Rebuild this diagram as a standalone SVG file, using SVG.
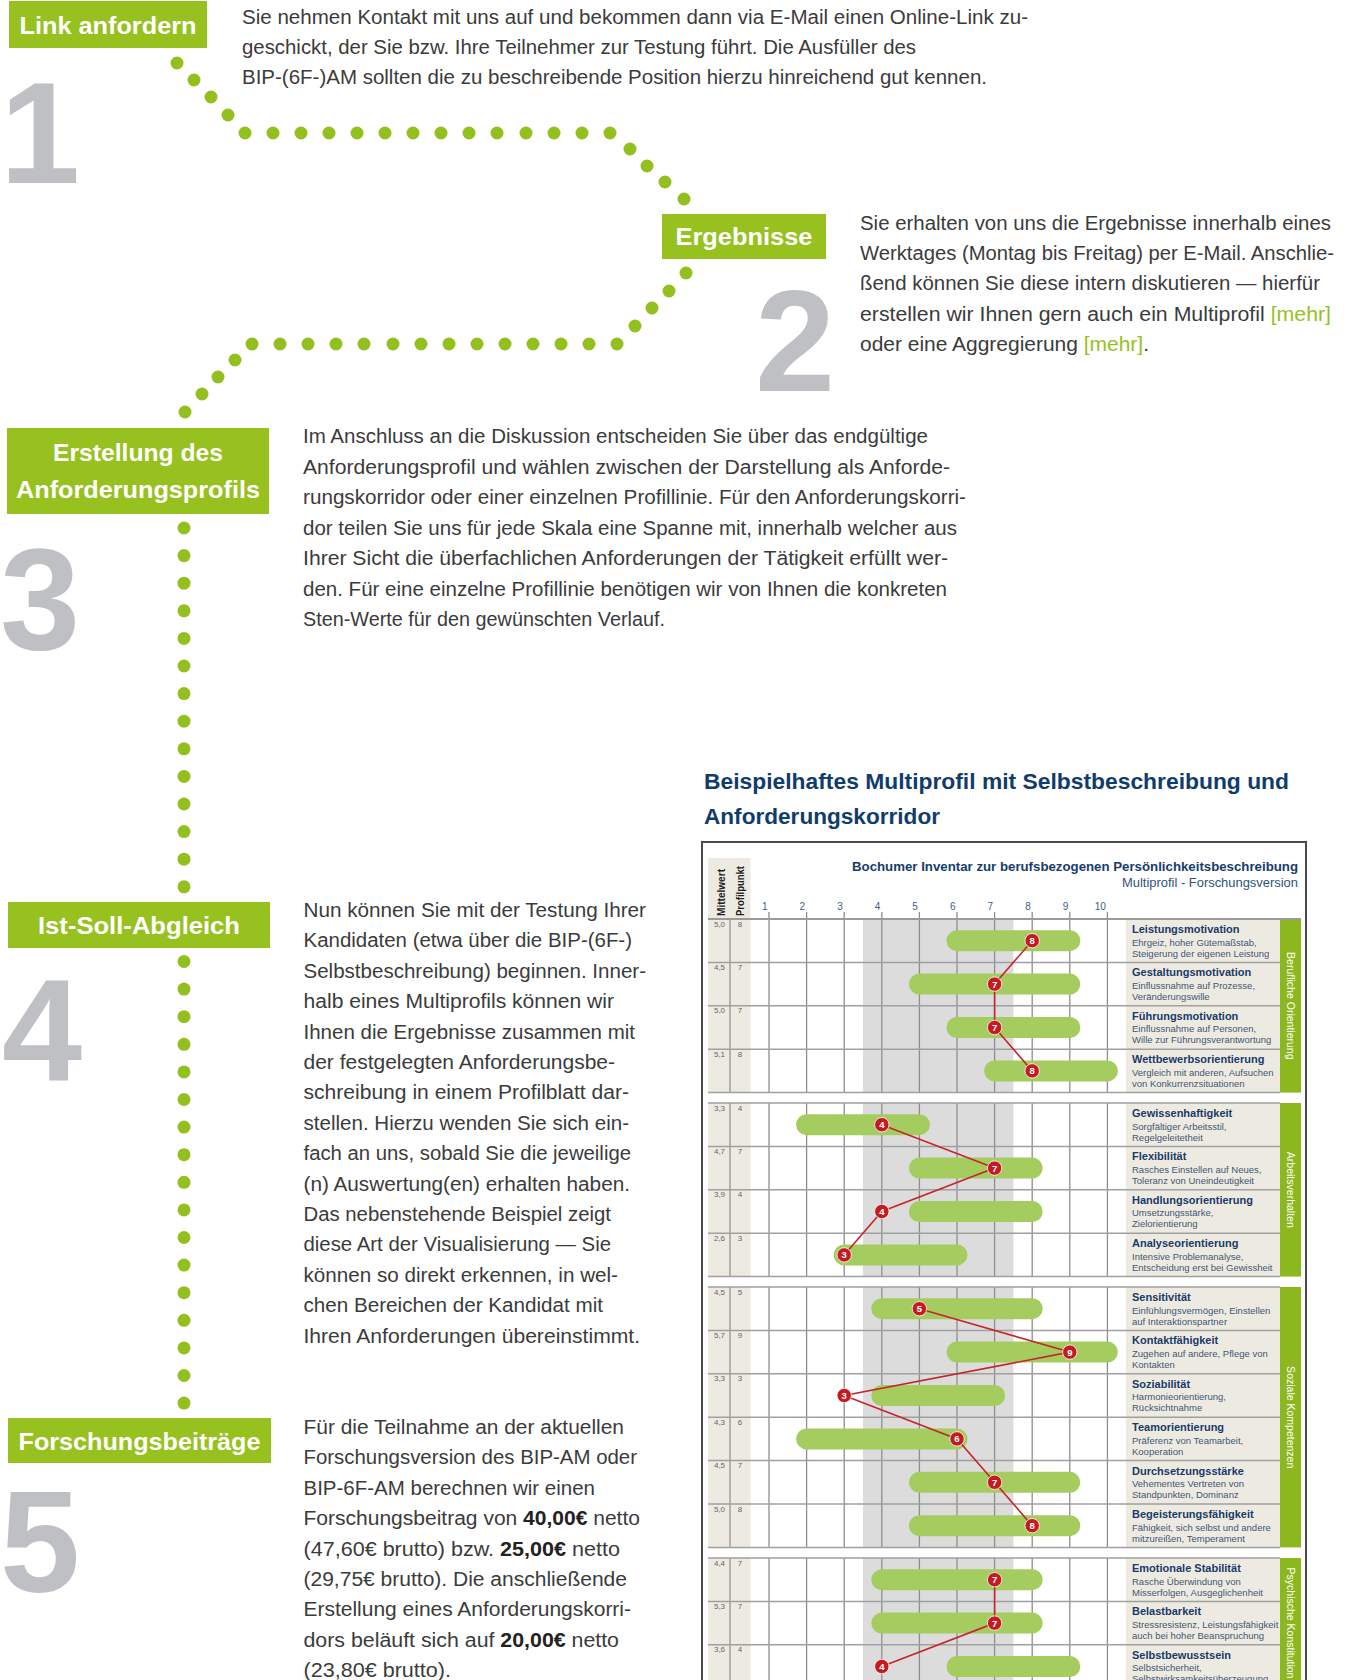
<svg xmlns="http://www.w3.org/2000/svg" width="1363" height="1680" viewBox="0 0 1363 1680">
<style>
.box{fill:#97c11f}
.bt{font-family:"Liberation Sans",Arial,sans-serif;font-weight:bold;font-size:24px;fill:#fff;text-anchor:middle}
.dig{font-family:"Liberation Sans",Arial,sans-serif;font-weight:bold;font-size:144px;fill:#bfc0c4}
.p{font-family:"Liberation Sans",Arial,sans-serif;font-size:20px;fill:#3b3b3b}
.b{font-weight:bold;fill:#222}
.g{fill:#95c11f}
.dot{fill:#93c01f}
.ct{font-family:"Liberation Sans",Arial,sans-serif;font-weight:bold;font-size:22.5px;fill:#103c6c}
.f{font-family:"Liberation Sans",Arial,sans-serif}
.beige{fill:#edebe1}
.corr{fill:#dcdcdc}
.grid{stroke:#8e8e8e;stroke-width:1.3;fill:none}
.hl{stroke:#a0a0a0;stroke-width:1.5;fill:none}
.bar{stroke:#a4cc5f;stroke-width:21;stroke-linecap:round;fill:none}
.rl{stroke:#c4262e;stroke-width:1.6;fill:none}
.mk circle{fill:#c41a20;stroke:#fff;stroke-width:0.8}
.mk text{font-family:"Liberation Sans",Arial,sans-serif;font-weight:bold;font-size:9.5px;fill:#fff;text-anchor:middle}
.lt{font-family:"Liberation Sans",Arial,sans-serif;font-weight:bold;font-size:11px;fill:#1a3a6a}
.ld{font-family:"Liberation Sans",Arial,sans-serif;font-size:9.5px;fill:#435673}
.val{font-family:"Liberation Sans",Arial,sans-serif;font-size:8px;fill:#666;text-anchor:middle}
.sc{font-family:"Liberation Sans",Arial,sans-serif;font-size:10px;fill:#3a5f8a;text-anchor:end}
.gl{font-family:"Liberation Sans",Arial,sans-serif;font-size:10.5px;fill:#fff;text-anchor:middle}
.strip{fill:#8cb81e}
</style>

<g id="connectors">
<circle class="dot" cx="177" cy="63" r="6.5"/><circle class="dot" cx="194" cy="80" r="6.5"/><circle class="dot" cx="211" cy="97" r="6.5"/><circle class="dot" cx="228" cy="115" r="6.5"/>
<circle class="dot" cx="245" cy="133" r="6.5"/><circle class="dot" cx="273" cy="133" r="6.5"/><circle class="dot" cx="301" cy="133" r="6.5"/><circle class="dot" cx="329" cy="133" r="6.5"/><circle class="dot" cx="357" cy="133" r="6.5"/><circle class="dot" cx="385" cy="133" r="6.5"/><circle class="dot" cx="413" cy="133" r="6.5"/><circle class="dot" cx="441" cy="133" r="6.5"/><circle class="dot" cx="469" cy="133" r="6.5"/><circle class="dot" cx="497" cy="133" r="6.5"/><circle class="dot" cx="526" cy="133" r="6.5"/><circle class="dot" cx="554" cy="133" r="6.5"/><circle class="dot" cx="582" cy="133" r="6.5"/><circle class="dot" cx="610" cy="133" r="6.5"/>
<circle class="dot" cx="630" cy="149" r="6.5"/><circle class="dot" cx="647" cy="166" r="6.5"/><circle class="dot" cx="665" cy="182" r="6.5"/><circle class="dot" cx="684" cy="199" r="6.5"/>

<circle class="dot" cx="686" cy="273" r="6.5"/><circle class="dot" cx="669" cy="291" r="6.5"/><circle class="dot" cx="652" cy="308" r="6.5"/><circle class="dot" cx="635" cy="326" r="6.5"/>
<circle class="dot" cx="617" cy="344" r="6.5"/><circle class="dot" cx="589" cy="344" r="6.5"/><circle class="dot" cx="561" cy="344" r="6.5"/><circle class="dot" cx="533" cy="344" r="6.5"/><circle class="dot" cx="505" cy="344" r="6.5"/><circle class="dot" cx="477" cy="344" r="6.5"/><circle class="dot" cx="449" cy="344" r="6.5"/><circle class="dot" cx="421" cy="344" r="6.5"/><circle class="dot" cx="393" cy="344" r="6.5"/><circle class="dot" cx="364" cy="344" r="6.5"/><circle class="dot" cx="336" cy="344" r="6.5"/><circle class="dot" cx="308" cy="344" r="6.5"/><circle class="dot" cx="280" cy="344" r="6.5"/><circle class="dot" cx="252" cy="344" r="6.5"/>
<circle class="dot" cx="235" cy="360" r="6.5"/><circle class="dot" cx="218" cy="377" r="6.5"/><circle class="dot" cx="202" cy="394" r="6.5"/><circle class="dot" cx="185" cy="412" r="6.5"/>

<circle class="dot" cx="184" cy="528" r="6.5"/><circle class="dot" cx="184" cy="555.6" r="6.5"/><circle class="dot" cx="184" cy="583.2" r="6.5"/><circle class="dot" cx="184" cy="610.8" r="6.5"/><circle class="dot" cx="184" cy="638.4" r="6.5"/><circle class="dot" cx="184" cy="666" r="6.5"/><circle class="dot" cx="184" cy="693.6" r="6.5"/><circle class="dot" cx="184" cy="721.2" r="6.5"/><circle class="dot" cx="184" cy="748.8" r="6.5"/><circle class="dot" cx="184" cy="776.4" r="6.5"/><circle class="dot" cx="184" cy="804" r="6.5"/><circle class="dot" cx="184" cy="831.6" r="6.5"/><circle class="dot" cx="184" cy="859.2" r="6.5"/><circle class="dot" cx="184" cy="886.8" r="6.5"/>

<circle class="dot" cx="184" cy="961.5" r="6.5"/><circle class="dot" cx="184" cy="989.1" r="6.5"/><circle class="dot" cx="184" cy="1016.7" r="6.5"/><circle class="dot" cx="184" cy="1044.3" r="6.5"/><circle class="dot" cx="184" cy="1071.9" r="6.5"/><circle class="dot" cx="184" cy="1099.5" r="6.5"/><circle class="dot" cx="184" cy="1127.1" r="6.5"/><circle class="dot" cx="184" cy="1154.7" r="6.5"/><circle class="dot" cx="184" cy="1182.3" r="6.5"/><circle class="dot" cx="184" cy="1209.9" r="6.5"/><circle class="dot" cx="184" cy="1237.5" r="6.5"/><circle class="dot" cx="184" cy="1265.1" r="6.5"/><circle class="dot" cx="184" cy="1292.7" r="6.5"/><circle class="dot" cx="184" cy="1320.3" r="6.5"/><circle class="dot" cx="184" cy="1347.9" r="6.5"/><circle class="dot" cx="184" cy="1375.5" r="6.5"/><circle class="dot" cx="184" cy="1403.1" r="6.5"/>
</g>

<g id="step1">
<rect class="box" x="9" y="1" width="198" height="47"/>
<text class="bt" x="108" y="34" textLength="177" lengthAdjust="spacingAndGlyphs">Link anfordern</text>
<text class="dig" x="0" y="183">1</text>
<text class="p" x="242" y="24" textLength="786" lengthAdjust="spacingAndGlyphs">Sie nehmen Kontakt mit uns auf und bekommen dann via E-Mail einen Online-Link zu-</text>
<text class="p" x="242" y="54" textLength="674" lengthAdjust="spacingAndGlyphs">geschickt, der Sie bzw. Ihre Teilnehmer zur Testung führt. Die Ausfüller des</text>
<text class="p" x="242" y="84" textLength="745" lengthAdjust="spacingAndGlyphs">BIP-(6F-)AM sollten die zu beschreibende Position hierzu hinreichend gut kennen.</text>
</g>

<g id="step2">
<rect class="box" x="662" y="214" width="164" height="45"/>
<text class="bt" x="744" y="245" textLength="137" lengthAdjust="spacingAndGlyphs">Ergebnisse</text>
<text class="dig" x="755" y="391">2</text>
<text class="p" x="860" y="229.5" textLength="471" lengthAdjust="spacingAndGlyphs">Sie erhalten von uns die Ergebnisse innerhalb eines</text>
<text class="p" x="860" y="259.5" textLength="474" lengthAdjust="spacingAndGlyphs">Werktages (Montag bis Freitag) per E-Mail. Anschlie-</text>
<text class="p" x="860" y="290" textLength="460" lengthAdjust="spacingAndGlyphs">ßend können Sie diese intern diskutieren — hierfür</text>
<text class="p" x="860" y="320.5" textLength="471" lengthAdjust="spacingAndGlyphs">erstellen wir Ihnen gern auch ein Multiprofil <tspan class="g">[mehr]</tspan></text>
<text class="p" x="860" y="350.5" textLength="289" lengthAdjust="spacingAndGlyphs">oder eine Aggregierung <tspan class="g">[mehr]</tspan>.</text>
</g>

<g id="step3">
<rect class="box" x="7" y="428" width="262" height="86"/>
<text class="bt" x="138" y="461" textLength="170" lengthAdjust="spacingAndGlyphs">Erstellung des</text>
<text class="bt" x="138" y="497.5" textLength="244" lengthAdjust="spacingAndGlyphs">Anforderungsprofils</text>
<text class="dig" x="0" y="649">3</text>
<text class="p" x="303" y="443" textLength="625" lengthAdjust="spacingAndGlyphs">Im Anschluss an die Diskussion entscheiden Sie über das endgültige</text>
<text class="p" x="303" y="473.5" textLength="647" lengthAdjust="spacingAndGlyphs">Anforderungsprofil und wählen zwischen der Darstellung als Anforde-</text>
<text class="p" x="303" y="504" textLength="663" lengthAdjust="spacingAndGlyphs">rungskorridor oder einer einzelnen Profillinie. Für den Anforderungskorri-</text>
<text class="p" x="303" y="534.5" textLength="654" lengthAdjust="spacingAndGlyphs">dor teilen Sie uns für jede Skala eine Spanne mit, innerhalb welcher aus</text>
<text class="p" x="303" y="565" textLength="645" lengthAdjust="spacingAndGlyphs">Ihrer Sicht die überfachlichen Anforderungen der Tätigkeit erfüllt wer-</text>
<text class="p" x="303" y="595.5" textLength="644" lengthAdjust="spacingAndGlyphs">den. Für eine einzelne Profillinie benötigen wir von Ihnen die konkreten</text>
<text class="p" x="303" y="626" textLength="362" lengthAdjust="spacingAndGlyphs">Sten-Werte für den gewünschten Verlauf.</text>
</g>

<g id="step4">
<rect class="box" x="8" y="902" width="262" height="46"/>
<text class="bt" x="139" y="934" textLength="202" lengthAdjust="spacingAndGlyphs">Ist-Soll-Abgleich</text>
<text class="dig" x="2" y="1080">4</text>
<text class="p" x="303.5" y="917" textLength="342.5" lengthAdjust="spacingAndGlyphs">Nun können Sie mit der Testung Ihrer</text>
<text class="p" x="303.5" y="947.4" textLength="328.5" lengthAdjust="spacingAndGlyphs">Kandidaten (etwa über die BIP-(6F-)</text>
<text class="p" x="303.5" y="977.8" textLength="342.5" lengthAdjust="spacingAndGlyphs">Selbstbeschreibung) beginnen. Inner-</text>
<text class="p" x="303.5" y="1008.2" textLength="310.5" lengthAdjust="spacingAndGlyphs">halb eines Multiprofils können wir</text>
<text class="p" x="303.5" y="1038.6" textLength="331.5" lengthAdjust="spacingAndGlyphs">Ihnen die Ergebnisse zusammen mit</text>
<text class="p" x="303.5" y="1069" textLength="311.5" lengthAdjust="spacingAndGlyphs">der festgelegten Anforderungsbe-</text>
<text class="p" x="303.5" y="1099.4" textLength="325.5" lengthAdjust="spacingAndGlyphs">schreibung in einem Profilblatt dar-</text>
<text class="p" x="303.5" y="1129.8" textLength="325.5" lengthAdjust="spacingAndGlyphs">stellen. Hierzu wenden Sie sich ein-</text>
<text class="p" x="303.5" y="1160.2" textLength="327.5" lengthAdjust="spacingAndGlyphs">fach an uns, sobald Sie die jeweilige</text>
<text class="p" x="303.5" y="1190.6" textLength="326.5" lengthAdjust="spacingAndGlyphs">(n) Auswertung(en) erhalten haben.</text>
<text class="p" x="303.5" y="1221" textLength="307.5" lengthAdjust="spacingAndGlyphs">Das nebenstehende Beispiel zeigt</text>
<text class="p" x="303.5" y="1251.4" textLength="307.5" lengthAdjust="spacingAndGlyphs">diese Art der Visualisierung — Sie</text>
<text class="p" x="303.5" y="1281.8" textLength="314.5" lengthAdjust="spacingAndGlyphs">können so direkt erkennen, in wel-</text>
<text class="p" x="303.5" y="1312.2" textLength="299.5" lengthAdjust="spacingAndGlyphs">chen Bereichen der Kandidat mit</text>
<text class="p" x="303.5" y="1342.6" textLength="336.5" lengthAdjust="spacingAndGlyphs">Ihren Anforderungen übereinstimmt.</text>
</g>

<g id="step5">
<rect class="box" x="8" y="1418" width="263" height="45"/>
<text class="bt" x="139.5" y="1450" textLength="242" lengthAdjust="spacingAndGlyphs">Forschungsbeiträge</text>
<text class="dig" x="0" y="1592">5</text>
<text class="p" x="303.5" y="1434" textLength="320.5" lengthAdjust="spacingAndGlyphs">Für die Teilnahme an der aktuellen</text>
<text class="p" x="303.5" y="1464.4" textLength="333.5" lengthAdjust="spacingAndGlyphs">Forschungsversion des BIP-AM oder</text>
<text class="p" x="303.5" y="1494.8" textLength="291.5" lengthAdjust="spacingAndGlyphs">BIP-6F-AM berechnen wir einen</text>
<text class="p" x="303.5" y="1525.2" textLength="336.5" lengthAdjust="spacingAndGlyphs">Forschungsbeitrag von <tspan class="b">40,00€</tspan> netto</text>
<text class="p" x="303.5" y="1555.6" textLength="316.5" lengthAdjust="spacingAndGlyphs">(47,60€ brutto) bzw. <tspan class="b">25,00€</tspan> netto</text>
<text class="p" x="303.5" y="1586" textLength="323.5" lengthAdjust="spacingAndGlyphs">(29,75€ brutto). Die anschließende</text>
<text class="p" x="303.5" y="1616.4" textLength="327.5" lengthAdjust="spacingAndGlyphs">Erstellung eines Anforderungskorri-</text>
<text class="p" x="303.5" y="1646.8" textLength="315.5" lengthAdjust="spacingAndGlyphs">dors beläuft sich auf <tspan class="b">20,00€</tspan> netto</text>
<text class="p" x="303.5" y="1677.2" textLength="147.5" lengthAdjust="spacingAndGlyphs">(23,80€ brutto).</text>
</g>

<g id="chart-title">
<text class="ct" x="704" y="789" textLength="585" lengthAdjust="spacingAndGlyphs">Beispielhaftes Multiprofil mit Selbstbeschreibung und</text>
<text class="ct" x="704" y="823.5" textLength="236" lengthAdjust="spacingAndGlyphs">Anforderungskorridor</text>
</g>

<g id="chart">
<rect x="702" y="842" width="604" height="900" fill="#fff" stroke="#4a4a4a" stroke-width="2"/>
<text class="f" x="1298" y="871" text-anchor="end" font-weight="bold" font-size="12.6" fill="#163d6d" textLength="446" lengthAdjust="spacingAndGlyphs">Bochumer Inventar zur berufsbezogenen Persönlichkeitsbeschreibung</text>
<text class="f" x="1298" y="887" text-anchor="end" font-size="12.5" fill="#2f527d" textLength="176" lengthAdjust="spacingAndGlyphs">Multiprofil - Forschungsversion</text>

<rect class="beige" x="708" y="858" width="42.5" height="61"/>
<text class="f" transform="translate(725,916) rotate(-90)" font-weight="bold" font-size="10" fill="#222" textLength="47" lengthAdjust="spacingAndGlyphs">Mittelwert</text>
<text class="f" transform="translate(744,916) rotate(-90)" font-weight="bold" font-size="10" fill="#222" textLength="50" lengthAdjust="spacingAndGlyphs">Profilpunkt</text>

<text class="sc" x="767.5" y="910">1</text><text class="sc" x="805.1" y="910">2</text><text class="sc" x="842.7" y="910">3</text><text class="sc" x="880.3" y="910">4</text><text class="sc" x="917.9" y="910">5</text><text class="sc" x="955.5" y="910">6</text><text class="sc" x="993.1" y="910">7</text><text class="sc" x="1030.7" y="910">8</text><text class="sc" x="1068.3" y="910">9</text><text class="sc" x="1105.9" y="910">10</text>
<path class="grid" d="M769 912V919M806.6 912V919M844.2 912V919M881.8 912V919M919.4 912V919M957 912V919M994.6 912V919M1032.2 912V919M1069.8 912V919M1107.4 912V919"/>

<g id="g1-bg">
<rect class="beige" x="708" y="919" width="42.5" height="173.6"/>
<rect class="corr" x="863" y="919" width="150.4" height="173.6"/>
<rect class="beige" x="1126" y="919" width="154" height="173.6"/>
<rect class="strip" x="1280" y="919" width="21" height="173.6"/>
<path class="grid" d="M769 919V1092.6M806.6 919V1092.6M844.2 919V1092.6M881.8 919V1092.6M919.4 919V1092.6M957 919V1092.6M994.6 919V1092.6M1032.2 919V1092.6M1069.8 919V1092.6M1107.4 919V1092.6"/>
<path class="hl" d="M708 962.4H1280M708 1005.8H1280M708 1049.2H1280M708 1092.6H1280M730 919V1092.6"/>
<path d="M708 919H1301" stroke="#9a9a9a" stroke-width="2.2"/>
</g>
<g id="g2-bg">
<rect class="beige" x="708" y="1103" width="42.5" height="173.6"/>
<rect class="corr" x="863" y="1103" width="150.4" height="173.6"/>
<rect class="beige" x="1126" y="1103" width="154" height="173.6"/>
<rect class="strip" x="1280" y="1103" width="21" height="173.6"/>
<path class="grid" d="M769 1103V1276.6M806.6 1103V1276.6M844.2 1103V1276.6M881.8 1103V1276.6M919.4 1103V1276.6M957 1103V1276.6M994.6 1103V1276.6M1032.2 1103V1276.6M1069.8 1103V1276.6M1107.4 1103V1276.6"/>
<path class="hl" d="M708 1103H1280M708 1146.4H1280M708 1189.8H1280M708 1233.2H1280M708 1276.6H1280M730 1103V1276.6"/>
</g>
<g id="g3-bg">
<rect class="beige" x="708" y="1287" width="42.5" height="260.4"/>
<rect class="corr" x="863" y="1287" width="150.4" height="260.4"/>
<rect class="beige" x="1126" y="1287" width="154" height="260.4"/>
<rect class="strip" x="1280" y="1287" width="21" height="260.4"/>
<path class="grid" d="M769 1287V1547.4M806.6 1287V1547.4M844.2 1287V1547.4M881.8 1287V1547.4M919.4 1287V1547.4M957 1287V1547.4M994.6 1287V1547.4M1032.2 1287V1547.4M1069.8 1287V1547.4M1107.4 1287V1547.4"/>
<path class="hl" d="M708 1287H1280M708 1330.4H1280M708 1373.8H1280M708 1417.2H1280M708 1460.6H1280M708 1504H1280M708 1547.4H1280M730 1287V1547.4"/>
</g>
<g id="g4-bg">
<rect class="beige" x="708" y="1558" width="42.5" height="130.2"/>
<rect class="corr" x="863" y="1558" width="150.4" height="130.2"/>
<rect class="beige" x="1126" y="1558" width="154" height="130.2"/>
<rect class="strip" x="1280" y="1558" width="21" height="130.2"/>
<path class="grid" d="M769 1558V1688M806.6 1558V1688M844.2 1558V1688M881.8 1558V1688M919.4 1558V1688M957 1558V1688M994.6 1558V1688M1032.2 1558V1688M1069.8 1558V1688M1107.4 1558V1688"/>
<path class="hl" d="M708 1558H1280M708 1601.4H1280M708 1644.8H1280M730 1558V1688"/>
</g>

<text class="gl" transform="translate(1287,1005.8) rotate(90)">Berufliche Orientierung</text>
<text class="gl" transform="translate(1287,1189.8) rotate(90)">Arbeitsverhalten</text>
<text class="gl" transform="translate(1287,1417.2) rotate(90)">Soziale Kompetenzen</text>
<text class="gl" transform="translate(1287,1623) rotate(90)">Psychische Konstitution</text>

<g id="values">
<text class="val" x="719.5" y="926.5">5,0</text><text class="val" x="740" y="926.5">8</text>
<text class="val" x="719.5" y="969.9">4,5</text><text class="val" x="740" y="969.9">7</text>
<text class="val" x="719.5" y="1013.3">5,0</text><text class="val" x="740" y="1013.3">7</text>
<text class="val" x="719.5" y="1056.7">5,1</text><text class="val" x="740" y="1056.7">8</text>
<text class="val" x="719.5" y="1110.5">3,3</text><text class="val" x="740" y="1110.5">4</text>
<text class="val" x="719.5" y="1153.9">4,7</text><text class="val" x="740" y="1153.9">7</text>
<text class="val" x="719.5" y="1197.3">3,9</text><text class="val" x="740" y="1197.3">4</text>
<text class="val" x="719.5" y="1240.7">2,6</text><text class="val" x="740" y="1240.7">3</text>
<text class="val" x="719.5" y="1294.5">4,5</text><text class="val" x="740" y="1294.5">5</text>
<text class="val" x="719.5" y="1337.9">5,7</text><text class="val" x="740" y="1337.9">9</text>
<text class="val" x="719.5" y="1381.3">3,3</text><text class="val" x="740" y="1381.3">3</text>
<text class="val" x="719.5" y="1424.7">4,3</text><text class="val" x="740" y="1424.7">6</text>
<text class="val" x="719.5" y="1468.1">4,5</text><text class="val" x="740" y="1468.1">7</text>
<text class="val" x="719.5" y="1511.5">5,0</text><text class="val" x="740" y="1511.5">8</text>
<text class="val" x="719.5" y="1565.5">4,4</text><text class="val" x="740" y="1565.5">7</text>
<text class="val" x="719.5" y="1608.9">5,3</text><text class="val" x="740" y="1608.9">7</text>
<text class="val" x="719.5" y="1652.3">3,6</text><text class="val" x="740" y="1652.3">4</text>
</g>

<g id="bars">
<path class="bar" d="M957 940.7H1069.8M919.4 984.1H1069.8M957 1027.5H1069.8M994.6 1070.9H1107.4"/>
<path class="bar" d="M806.6 1124.7H919.4M919.4 1168.1H1032.2M919.4 1211.5H1032.2M844.2 1254.9H957"/>
<path class="bar" d="M881.8 1308.7H1032.2M957 1352.1H1107.4M881.8 1395.5H994.6M806.6 1438.9H957M919.4 1482.3H1069.8M919.4 1525.7H1069.8"/>
<path class="bar" d="M881.8 1579.7H1032.2M881.8 1623.1H1032.2M957 1666.5H1069.8"/>
</g>

<g id="profile-lines">
<polyline class="rl" points="1032.2,940.7 994.6,984.1 994.6,1027.5 1032.2,1070.9"/>
<polyline class="rl" points="881.8,1124.7 994.6,1168.1 881.8,1211.5 844.2,1254.9"/>
<polyline class="rl" points="919.4,1308.7 1069.8,1352.1 844.2,1395.5 957,1438.9 994.6,1482.3 1032.2,1525.7"/>
<polyline class="rl" points="994.6,1579.7 994.6,1623.1 881.8,1666.5"/>
</g>

<g id="markers">
<g class="mk"><circle cx="1032.2" cy="940.7" r="7.2"/><text x="1032.2" y="944.1">8</text></g>
<g class="mk"><circle cx="994.6" cy="984.1" r="7.2"/><text x="994.6" y="987.5">7</text></g>
<g class="mk"><circle cx="994.6" cy="1027.5" r="7.2"/><text x="994.6" y="1030.9">7</text></g>
<g class="mk"><circle cx="1032.2" cy="1070.9" r="7.2"/><text x="1032.2" y="1074.3">8</text></g>
<g class="mk"><circle cx="881.8" cy="1124.7" r="7.2"/><text x="881.8" y="1128.1">4</text></g>
<g class="mk"><circle cx="994.6" cy="1168.1" r="7.2"/><text x="994.6" y="1171.5">7</text></g>
<g class="mk"><circle cx="881.8" cy="1211.5" r="7.2"/><text x="881.8" y="1214.9">4</text></g>
<g class="mk"><circle cx="844.2" cy="1254.9" r="7.2"/><text x="844.2" y="1258.3">3</text></g>
<g class="mk"><circle cx="919.4" cy="1308.7" r="7.2"/><text x="919.4" y="1312.1">5</text></g>
<g class="mk"><circle cx="1069.8" cy="1352.1" r="7.2"/><text x="1069.8" y="1355.5">9</text></g>
<g class="mk"><circle cx="844.2" cy="1395.5" r="7.2"/><text x="844.2" y="1398.9">3</text></g>
<g class="mk"><circle cx="957" cy="1438.9" r="7.2"/><text x="957" y="1442.3">6</text></g>
<g class="mk"><circle cx="994.6" cy="1482.3" r="7.2"/><text x="994.6" y="1485.7">7</text></g>
<g class="mk"><circle cx="1032.2" cy="1525.7" r="7.2"/><text x="1032.2" y="1529.1">8</text></g>
<g class="mk"><circle cx="994.6" cy="1579.7" r="7.2"/><text x="994.6" y="1583.1">7</text></g>
<g class="mk"><circle cx="994.6" cy="1623.1" r="7.2"/><text x="994.6" y="1626.5">7</text></g>
<g class="mk"><circle cx="881.8" cy="1666.5" r="7.2"/><text x="881.8" y="1669.9">4</text></g>
</g>

<g id="labels">
<text class="lt" x="1132" y="933">Leistungsmotivation</text><text class="ld" x="1132" y="945.5">Ehrgeiz, hoher Gütemaßstab,</text><text class="ld" x="1132" y="956.5">Steigerung der eigenen Leistung</text>
<text class="lt" x="1132" y="976.4">Gestaltungsmotivation</text><text class="ld" x="1132" y="988.9">Einflussnahme auf Prozesse,</text><text class="ld" x="1132" y="999.9">Veränderungswille</text>
<text class="lt" x="1132" y="1019.8">Führungsmotivation</text><text class="ld" x="1132" y="1032.3">Einflussnahme auf Personen,</text><text class="ld" x="1132" y="1043.3">Wille zur Führungsverantwortung</text>
<text class="lt" x="1132" y="1063.2">Wettbewerbsorientierung</text><text class="ld" x="1132" y="1075.7">Vergleich mit anderen, Aufsuchen</text><text class="ld" x="1132" y="1086.7">von Konkurrenzsituationen</text>

<text class="lt" x="1132" y="1117">Gewissenhaftigkeit</text><text class="ld" x="1132" y="1129.5">Sorgfältiger Arbeitsstil,</text><text class="ld" x="1132" y="1140.5">Regelgeleitetheit</text>
<text class="lt" x="1132" y="1160.4">Flexibilität</text><text class="ld" x="1132" y="1172.9">Rasches Einstellen auf Neues,</text><text class="ld" x="1132" y="1183.9">Toleranz von Uneindeutigkeit</text>
<text class="lt" x="1132" y="1203.8">Handlungsorientierung</text><text class="ld" x="1132" y="1216.3">Umsetzungsstärke,</text><text class="ld" x="1132" y="1227.3">Zielorientierung</text>
<text class="lt" x="1132" y="1247.2">Analyseorientierung</text><text class="ld" x="1132" y="1259.7">Intensive Problemanalyse,</text><text class="ld" x="1132" y="1270.7">Entscheidung erst bei Gewissheit</text>

<text class="lt" x="1132" y="1301">Sensitivität</text><text class="ld" x="1132" y="1313.5">Einfühlungsvermögen, Einstellen</text><text class="ld" x="1132" y="1324.5">auf Interaktionspartner</text>
<text class="lt" x="1132" y="1344.4">Kontaktfähigkeit</text><text class="ld" x="1132" y="1356.9">Zugehen auf andere, Pflege von</text><text class="ld" x="1132" y="1367.9">Kontakten</text>
<text class="lt" x="1132" y="1387.8">Soziabilität</text><text class="ld" x="1132" y="1400.3">Harmonieorientierung,</text><text class="ld" x="1132" y="1411.3">Rücksichtnahme</text>
<text class="lt" x="1132" y="1431.2">Teamorientierung</text><text class="ld" x="1132" y="1443.7">Präferenz von Teamarbeit,</text><text class="ld" x="1132" y="1454.7">Kooperation</text>
<text class="lt" x="1132" y="1474.6">Durchsetzungsstärke</text><text class="ld" x="1132" y="1487.1">Vehementes Vertreten von</text><text class="ld" x="1132" y="1498.1">Standpunkten, Dominanz</text>
<text class="lt" x="1132" y="1518">Begeisterungsfähigkeit</text><text class="ld" x="1132" y="1530.5">Fähigkeit, sich selbst und andere</text><text class="ld" x="1132" y="1541.5">mitzureißen, Temperament</text>

<text class="lt" x="1132" y="1572">Emotionale Stabilität</text><text class="ld" x="1132" y="1584.5">Rasche Überwindung von</text><text class="ld" x="1132" y="1595.5">Misserfolgen, Ausgeglichenheit</text>
<text class="lt" x="1132" y="1615.4">Belastbarkeit</text><text class="ld" x="1132" y="1627.9">Stressresistenz, Leistungsfähigkeit</text><text class="ld" x="1132" y="1638.9">auch bei hoher Beanspruchung</text>
<text class="lt" x="1132" y="1658.8">Selbstbewusstsein</text><text class="ld" x="1132" y="1671.3">Selbstsicherheit,</text><text class="ld" x="1132" y="1682.3">Selbstwirksamkeitsüberzeugung</text>
</g>
</g>
</svg>
